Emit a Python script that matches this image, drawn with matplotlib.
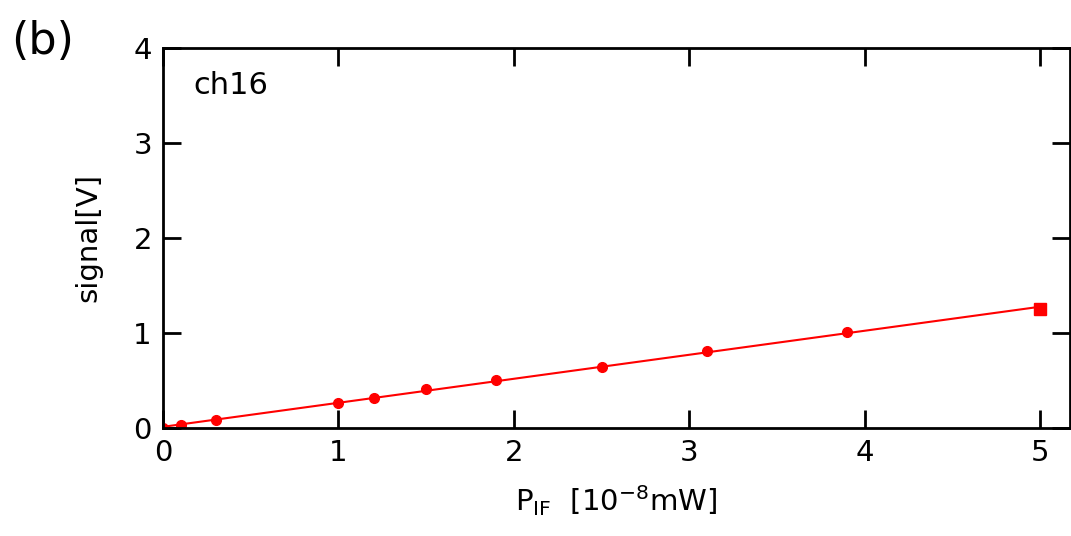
import matplotlib
matplotlib.use("Agg")
import matplotlib.pyplot as plt
import numpy as np

x_vals = [0, 0.1, 0.3, 1.0, 1.2, 1.5, 1.9, 2.5, 3.1, 3.9, 5.0]
y_vals = [0.0, 0.03, 0.08, 0.26, 0.32, 0.41, 0.51, 0.64, 0.81, 1.01, 1.25]

fig = plt.figure(figsize=(10.71, 5.36), dpi=100)
ax = fig.add_axes([163 / 1071, 1 - 428 / 536, (1070 - 163) / 1071, (428 - 48) / 536])

slope = np.polyfit(x_vals, y_vals, 1)
xf = np.array([0, 5])
ax.plot(xf, np.polyval(slope, xf), color="red", lw=1.5)
ax.plot(x_vals[:-1], y_vals[:-1], "o", color="red", ms=7)
ax.plot(x_vals[-1:], y_vals[-1:], "s", color="red", ms=8)

ax.set_xlim(0, 5.17)
ax.set_ylim(0, 4)
ax.set_xticks([0, 1, 2, 3, 4, 5])
ax.set_yticks([0, 1, 2, 3, 4])
ax.tick_params(direction="in", top=True, right=True, length=13, width=2, labelsize=21, pad=8)
for s in ax.spines.values():
    s.set_linewidth(2)
ax.set_xlabel(r"P$_{\mathrm{IF}}$  [10$^{-8}$mW]", fontsize=21, labelpad=12)
ax.set_ylabel("signal[V]", fontsize=21, labelpad=22)
ax.text(0.033, 0.88, "ch16", transform=ax.transAxes, fontsize=22)
fig.text(0.01, 0.9, "(b)", fontsize=32)

fig.savefig("out.png", dpi=100)
